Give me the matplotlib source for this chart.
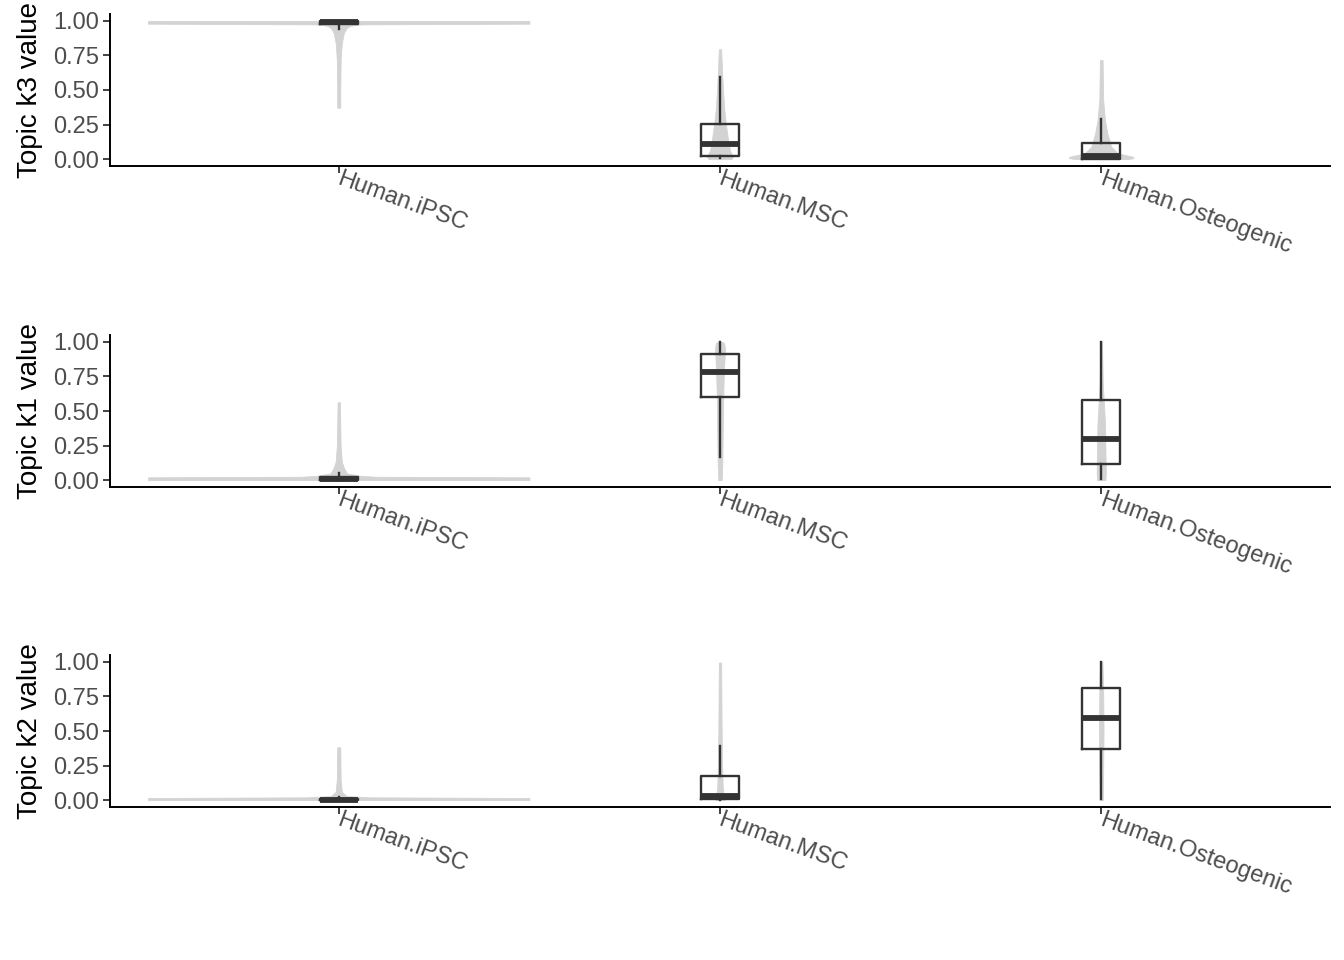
import numpy as np
import matplotlib.pyplot as plt
import matplotlib.transforms as mtransforms

plt.rcParams['font.family'] = ['Liberation Sans', 'DejaVu Sans']

# categories and panels
categories = ["Human.iPSC", "Human.MSC", "Human.Osteogenic"]
topics = ["k3", "k1", "k2"]

# box stats per category: [whislo, q1, med, q3, whishi]
k3_box = [[0.94, 0.975, 0.99, 1.0, 1.0],
          [0.005, 0.024, 0.109, 0.254, 0.596],
          [0.0, 0.0, 0.025, 0.118, 0.29]]
k1_box = [[0.0, 0.0, 0.005, 0.02, 0.05],
          [0.164, 0.604, 0.785, 0.913, 1.0],
          [0.005, 0.116, 0.295, 0.58, 1.0]]
k2_box = [[0.0, 0.0, 0.003, 0.008, 0.02],
          [0.0, 0.008, 0.03, 0.174, 0.39],
          [0.005, 0.37, 0.592, 0.814, 1.0]]

# violin outlines: (value levels, half widths)
k3_violin = [([0.372, 0.50, 0.72, 0.84, 0.91, 0.947, 0.965, 0.975, 0.98, 1.0],
              [0.004, 0.004, 0.005, 0.008, 0.013, 0.02, 0.03, 0.06, 0.5, 0.5]),
             ([0.0, 0.017, 0.065, 0.162, 0.259, 0.379, 0.596, 0.795],
              [0.03, 0.034, 0.026, 0.02, 0.015, 0.0105, 0.006, 0.003]),
             ([0.0, 0.008, 0.017, 0.041, 0.089, 0.186, 0.283, 0.428, 0.717],
              [0.07, 0.085, 0.083, 0.044, 0.026, 0.016, 0.0097, 0.005, 0.0035])]
k1_violin = [([0.0, 0.02, 0.024, 0.03, 0.048, 0.085, 0.133, 0.254, 0.563],
              [0.5, 0.5, 0.1, 0.06, 0.022, 0.014, 0.008, 0.0048, 0.003]),
             ([0.0, 0.12, 0.3, 0.5, 0.65, 0.8, 0.95, 0.99, 1.0],
              [0.0044, 0.006, 0.007, 0.008, 0.0087, 0.0105, 0.013, 0.011, 0.006]),
             ([0.0, 0.05, 0.2, 0.4, 0.55, 0.7, 0.85, 1.0],
              [0.011, 0.012, 0.011, 0.01, 0.007, 0.004, 0.003, 0.002])]
k2_violin = [([0.0, 0.015, 0.02, 0.03, 0.06, 0.15, 0.382],
              [0.5, 0.5, 0.08, 0.02, 0.008, 0.005, 0.004]),
             ([0.0, 0.03, 0.1, 0.3, 0.6, 0.995],
              [0.012, 0.01, 0.007, 0.005, 0.004, 0.003]),
             ([0.0, 0.2, 0.5, 0.8, 1.0],
              [0.004, 0.005, 0.006, 0.005, 0.003])]

boxes = [k3_box, k1_box, k2_box]
violins = [k3_violin, k1_violin, k2_violin]
yticks = [0.0, 0.25, 0.5, 0.75, 1.0]

fig = plt.figure(figsize=(13.44, 9.6), dpi=100)
panel_tops = [14, 335, 655]
for p, topic in enumerate(topics):
    top = panel_tops[p]
    ax = fig.add_axes([110 / 1344, 1 - (top + 152) / 960, 1220 / 1344, 152 / 960])
    pos = np.arange(len(categories))

    for i, (vy, vw) in enumerate(violins[p]):
        vy = np.array(vy)
        vw = np.array(vw)
        ax.fill_betweenx(vy, pos[i] - vw, pos[i] + vw, color='#D3D3D3',
                         edgecolor='#D3D3D3', lw=0.6, zorder=1)

    stats = []
    for i, b in enumerate(boxes[p]):
        stats.append(dict(whislo=b[0], q1=b[1], med=b[2], q3=b[3], whishi=b[4],
                          label=categories[i]))
    ax.bxp(stats, positions=pos, widths=0.1, showfliers=False, showcaps=False,
           boxprops=dict(color='#333333', lw=1.7),
           medianprops=dict(color='#333333', lw=4.2, solid_capstyle='butt'),
           whiskerprops=dict(color='#333333', lw=1.7), zorder=3)

    ax.set_xlim(-0.6, 2.6)
    ax.set_ylim(-0.05, 1.05)
    ax.set_yticks(yticks)
    ax.set_yticklabels([f"{t:.2f}" for t in yticks])
    ax.set_xticks(pos)
    ax.set_xticklabels([])
    # rotated category labels hanging from the ticks
    lab_tr = ax.get_xaxis_transform() + mtransforms.ScaledTranslation(
        3 / 100, -2 / 100, fig.dpi_scale_trans)
    for i, name in enumerate(categories):
        ax.text(pos[i], 0, name, transform=lab_tr, rotation=-20,
                rotation_mode='anchor', ha='left', va='top', fontsize=17,
                color='#4D4D4D', clip_on=False)
    for s in ['top', 'right']:
        ax.spines[s].set_visible(False)
    for s in ['left', 'bottom']:
        ax.spines[s].set_linewidth(1.4)
        ax.spines[s].set_color('black')
    ax.tick_params(axis='both', length=5, width=1.3, color='#333333',
                   labelcolor='#4D4D4D')
    ax.tick_params(axis='y', labelsize=17, pad=3)
    ax.set_ylabel(f"Topic {topic} value", fontsize=20, labelpad=7)
    ax.set_facecolor('none')

fig.savefig('out.png', dpi=100)
